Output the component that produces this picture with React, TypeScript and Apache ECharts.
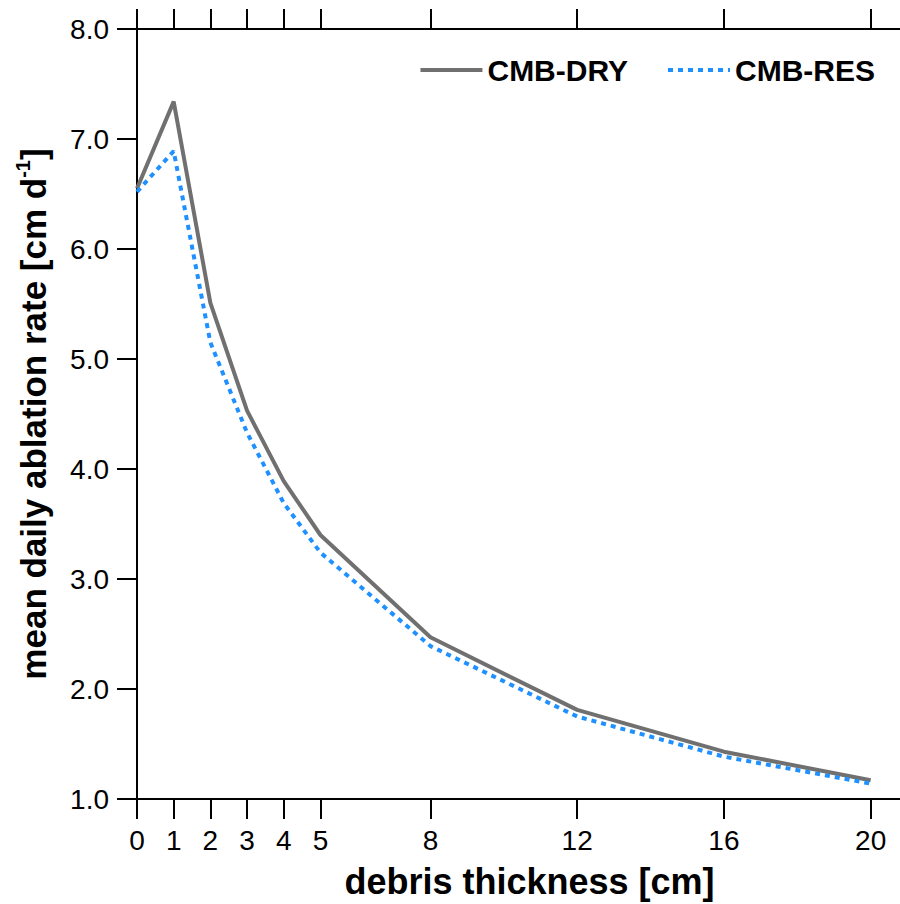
import React, { useEffect, useRef } from 'react';
import * as echarts from 'echarts';

const thickness = [0, 1, 2, 3, 4, 5, 8, 12, 16, 20];
const cmbDry = [6.55, 7.34, 5.51, 4.53, 3.89, 3.40, 2.47, 1.81, 1.43, 1.17];
const cmbRes = [6.52, 6.89, 5.15, 4.33, 3.69, 3.24, 2.39, 1.75, 1.385, 1.14];
const xTickValues = [0, 1, 2, 3, 4, 5, 8, 12, 16, 20];
const seriesNames = ['CMB-DRY', 'CMB-RES'];

const FONT = '"Liberation Sans", Arial, Helvetica, sans-serif';

export default function App() {
  const ref = useRef<HTMLDivElement>(null);
  useEffect(() => {
    if (!ref.current) return;
    const chart = echarts.init(ref.current, null, { renderer: 'svg' });
    const axisLine = { show: true, lineStyle: { color: '#000', width: 2 } };
    const axisTick = { show: true, inside: false, length: 20, lineStyle: { color: '#000', width: 2 } };
    chart.setOption({
      animation: false,
      backgroundColor: '#fff',
      textStyle: { fontFamily: FONT },
      grid: { left: 137, top: 29, bottom: 105, right: -22, containLabel: false, outerBoundsMode: 'none' },
      legend: {
        right: 20,
        top: 50,
        itemWidth: 62,
        itemHeight: 4,
        itemGap: 38,
        itemStyle: { opacity: 0 },
        lineStyle: { width: 4 },
        textStyle: { fontFamily: FONT, fontSize: 30, fontWeight: 'bold', color: '#000' },
        data: seriesNames,
      },
      xAxis: [
        {
          type: 'value',
          position: 'bottom',
          min: 0,
          max: 21.4,
          name: 'debris thickness [cm]',
          nameLocation: 'middle',
          nameGap: 64,
          nameTextStyle: { fontFamily: FONT, fontSize: 36, fontWeight: 'bold', color: '#000' },
          axisLine,
          axisTick: { ...axisTick, customValues: xTickValues },
          axisLabel: {
            customValues: xTickValues,
            margin: 27,
            fontFamily: FONT,
            fontSize: 28,
            color: '#000',
          },
          splitLine: { show: false },
        },
        {
          type: 'value',
          position: 'top',
          min: 0,
          max: 21.4,
          axisLine,
          axisTick: { ...axisTick, customValues: xTickValues },
          axisLabel: { show: false },
          splitLine: { show: false },
        },
      ],
      yAxis: {
        type: 'value',
        min: 1,
        max: 8,
        interval: 1,
        name: '{a|mean daily ablation rate [cm d}{s|-1}{a|]}',
        nameLocation: 'middle',
        nameRotate: 90,
        nameGap: 84,
        nameTextStyle: {
          rich: {
            a: { fontFamily: FONT, fontSize: 35, fontWeight: 'bold', color: '#000', lineHeight: 40 },
            s: { fontFamily: FONT, fontSize: 20, fontWeight: 'bold', color: '#000', lineHeight: 22, verticalAlign: 'top' },
          },
        },
        axisLine,
        axisTick,
        axisLabel: {
          margin: 28,
          fontFamily: FONT,
          fontSize: 28,
          color: '#000',
          formatter: (v: number) => v.toFixed(1),
        },
        splitLine: { show: false },
      },
      series: [
        {
          name: seriesNames[0],
          type: 'line',
          data: thickness.map((x, i) => [x, cmbDry[i]]),
          symbol: 'none',
          showSymbol: false,
          lineStyle: { color: '#707070', width: 4 },
          itemStyle: { color: '#707070' },
        },
        {
          name: seriesNames[1],
          type: 'line',
          data: thickness.map((x, i) => [x, cmbRes[i]]),
          symbol: 'none',
          showSymbol: false,
          lineStyle: { color: '#1e90ff', width: 4, type: [5, 5] },
          itemStyle: { color: '#1e90ff' },
        },
      ],
    });
    return () => chart.dispose();
  }, []);
  return (
    <div
      ref={ref}
      style={{ position: 'absolute', left: 0, top: 0, width: 900, height: 904 }}
    />
  );
}
